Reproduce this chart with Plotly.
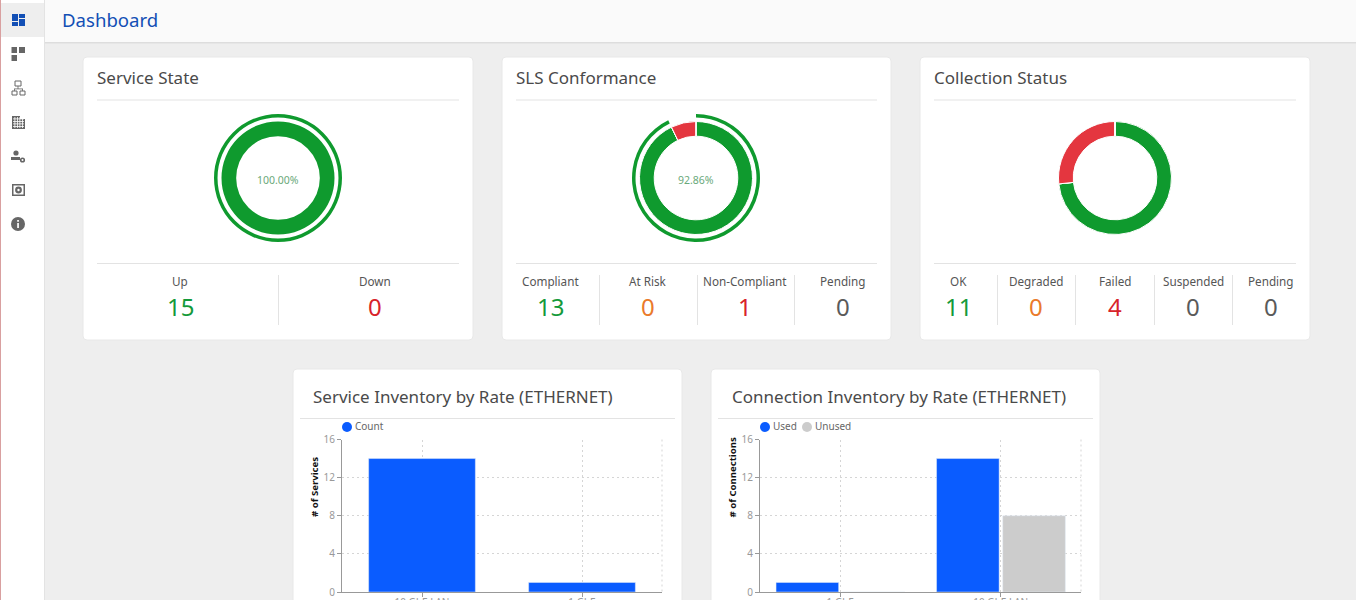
#!/user/bin/env python3
# -*- coding: utf-8 -*-

'''
dashboard test
'''

import plotly;

state_labels = ["Up", "Down"];
state_values = [15, 0];
sls_labels = ["Compliant", "At Risk", "Non-Compliant", "Pending"];
sls_values = [13, 0, 1, 0];
collection_labels = ["OK", "Degraded", "Failed", "Suspended", "Pending"];
collection_values = [11, 0, 4, 0, 0];
service_rates = ["10 GbE LAN", "1 GbE"];
service_count = [14, 1];
connection_rates = ["1 GbE", "10 GbE LAN"];
connection_used = [1, 14];
connection_unused = [0, 8];
y_ticks = [0, 4, 8, 12, 16];

W = 1356;
H = 600;
FONT = "Noto Sans";
GREEN = "#0f9a2e";
RED = "#e4363f";
BLUE = "#0a5cff";
LIGHT = "#cccccc";
ICON = "#666666";
NUM_COLORS = {"Up": "#149a3a", "Compliant": "#149a3a", "OK": "#149a3a",
              "At Risk": "#ea7a2b", "Degraded": "#ea7a2b",
              "Down": "#d8232a", "Non-Compliant": "#d8232a", "Failed": "#d8232a",
              "Pending": "#5a5a5a", "Suspended": "#5a5a5a"};

def px(x):
    return x / W;

def py(y):
    return 1 - y / H;

def box(x0, y0, x1, y1, fill, line=None, width=1):
    return dict(type="rect", xref="paper", yref="paper", layer="below",
                x0=px(x0), x1=px(x1), y0=py(y0), y1=py(y1), fillcolor=fill,
                line=dict(color=line, width=width if line else 0));

def dot(cx, cy, r, fill, layer="below"):
    return dict(type="circle", xref="paper", yref="paper", layer=layer,
                x0=px(cx - r), x1=px(cx + r), y0=py(cy - r), y1=py(cy + r),
                fillcolor=fill, line=dict(width=0));

def card(x0, y0, x1, y1, r=4):
    # 圆角卡片
    a, b, c, d = px(x0), px(x1), py(y0), py(y1);
    rx, ry = r / W, r / H;
    path = (f"M {a+rx} {c} L {b-rx} {c} Q {b} {c} {b} {c-ry} L {b} {d+ry} Q {b} {d} {b-rx} {d} "
            f"L {a+rx} {d} Q {a} {d} {a} {d+ry} L {a} {c-ry} Q {a} {c} {a+rx} {c} Z");
    return dict(type="path", xref="paper", yref="paper", layer="below", path=path,
                fillcolor="white", line=dict(color="#e8e8e8", width=1));

def label(text, x, y, size, color, anchor="center", angle=0):
    return dict(text=text, x=px(x), y=py(y), xref="paper", yref="paper", showarrow=False, textangle=angle,
                xanchor=anchor, yanchor="middle", font=dict(family=FONT, size=size, color=color));

def edge(x0, y0, x1, y1):
    # 图表边缘的虚线
    return dict(type="line", xref="paper", yref="paper", layer="below",
                x0=px(x0), x1=px(x1), y0=py(y0), y1=py(y1),
                line=dict(color="#d5d5d5", width=1, dash="2px,3px"));

def draw_icons():
    # 左侧图标
    s = [box(0, 0, 45, H, "white"), box(44, 0, 45, H, "#e3e3e3"), box(0, 0, 1, H, "#d9a0a0"),
         box(1, 3, 44, 37, "#eeeeee")];
    for r in [(12, 14, 18, 21), (12, 22, 18, 26), (19, 14, 25, 18), (19, 19, 25, 26)]:
        s.append(box(*r, "#124fb5"));
    for r in [(11.5, 47, 17, 53), (19, 47, 25, 53), (11.5, 55, 17, 61)]:
        s.append(box(*r, ICON));
    # 层级
    for r in [(15, 81, 21, 86), (12, 91, 17, 95), (20, 91, 25, 95)]:
        s.append(box(*r, "white", ICON, 1));
    s.append(box(17.6, 86, 18.4, 89, ICON));
    s.append(box(14, 88.5, 23, 89.3, ICON));
    s.append(box(14, 89, 14.8, 91, ICON));
    s.append(box(22.2, 89, 23, 91, ICON));
    # 楼
    s.append(box(12, 116, 20, 129, ICON));
    s.append(box(20, 119, 25, 129, ICON));
    for yy in [118.5, 121, 123.5, 126]:
        s.append(box(13, yy, 24, yy + 0.8, "white"));
    for xx in [14.5, 17, 19.5, 22]:
        s.append(box(xx, 117, xx + 0.8, 128, "white"));
    # 人和齿轮
    s.append(dot(16, 153, 2.6, ICON));
    s.append(box(11, 157, 20, 160, ICON));
    s.append(dot(22.5, 160, 2.6, ICON));
    s.append(dot(22.5, 160, 1, "white"));
    # 方框
    s.append(box(12, 184, 25, 196, ICON));
    s.append(box(13.5, 185.5, 23.5, 194.5, "white"));
    s.append(dot(18.5, 190, 3.4, ICON));
    s.append(dot(18.5, 190, 1.2, "white"));
    # 信息
    s.append(dot(18, 224, 7, ICON));
    s.append(box(17.2, 223, 18.9, 228, "white"));
    s.append(box(17.2, 220, 18.9, 221.8, "white"));
    return s;

def draw_donut(values, colors, cx, cy, radius, hole, border=0):
    return plotly.graph_objs.Pie(
        values=values,
        domain=dict(x=[px(cx - radius), px(cx + radius)], y=[py(cy + radius), py(cy - radius)]),
        hole=hole,
        sort=False,
        direction="clockwise",
        rotation=0,
        textinfo="none",
        showlegend=False,
        marker=dict(colors=colors, line=dict(color="white", width=border))
    );

def draw_stats(labels, values, centers, dividers, shapes, notes):
    for name, value, x in zip(labels, values, centers):
        notes.append(label(name, x, 281, 11.7, "#555555"));
        notes.append(label(str(value), x, 306.5, 24, NUM_COLORS[name]));
    for x in dividers:
        shapes.append(box(x, 275, x + 1, 325, "#e3e3e3"));

def main():
    shapes = [];
    notes = [];
    # 顶部
    shapes.append(box(45, 0, W, 43, "#fafafa"));
    shapes.append(box(45, 42, W, 43.5, "#dddddd"));
    shapes.extend(draw_icons());
    notes.append(label("Dashboard", 60, 20, 18.6, "#124fb5", "left"));
    # 卡片
    titles = [("Service State", 83, 473, 97), ("SLS Conformance", 502, 891, 516), ("Collection Status", 920, 1310, 934)];
    for name, x0, x1, tx in titles:
        shapes.append(card(x0, 57, x1, 340));
        shapes.append(box(tx, 99.5, x1 - 14, 100.5, "#e3e3e3"));
        shapes.append(box(tx, 263, x1 - 14, 264, "#e3e3e3"));
        notes.append(label(name, tx - 2, 77.5, 17, "#4a4a4a", "left"));
    shapes.append(card(293, 369, 682, 640));
    shapes.append(card(711, 369, 1100, 640));
    shapes.append(box(300, 418, 675, 419, "#e3e3e3"));
    shapes.append(box(718, 418, 1093, 419, "#e3e3e3"));
    notes.append(label("Service Inventory by Rate (ETHERNET)", 311, 396.5, 17, "#4a4a4a", "left"));
    notes.append(label("Connection Inventory by Rate (ETHERNET)", 730, 396.5, 17, "#4a4a4a", "left"));
    shapes.append(edge(662, 439.5, 662, 592));
    shapes.append(edge(1081, 439.5, 1081, 592));

    draw_stats(state_labels, state_values, [180, 375], [278], shapes, notes);
    draw_stats(sls_labels, sls_values, [550, 648, 745, 843], [599, 697, 794], shapes, notes);
    draw_stats(collection_labels, collection_values, [958, 1036, 1115, 1193, 1271], [997, 1075, 1154, 1232], shapes, notes);

    notes.append(label("100.00%", 278, 180, 10.5, "#6aa97a"));
    notes.append(label("92.86%", 696, 180, 10.5, "#6aa97a"));

    # 图例
    shapes.append(dot(347, 427, 5, BLUE));
    notes.append(label("Count", 353, 426, 10, "#666666", "left"));
    shapes.append(dot(765, 427, 5, BLUE));
    notes.append(label("Used", 771, 426, 10, "#666666", "left"));
    shapes.append(dot(807, 427, 5, LIGHT));
    notes.append(label("Unused", 813, 426, 10, "#666666", "left"));

    # 纵轴标题
    notes.append(label("<b># of Services</b>", 314, 487, 9.6, "#111111", "center", -90));
    notes.append(label("<b># of Connections</b>", 732, 477.5, 9.6, "#111111", "center", -90));

    # 准备图轨数据
    clear = "rgba(0,0,0,0)";
    data = [
        draw_donut(state_values, [GREEN, RED], 278, 178, 56.5, 0.74),
        draw_donut(state_values, [GREEN, clear], 278, 178, 64, 0.945),
        draw_donut(sls_values, [GREEN, "#ea7a2b", RED, "#999999"], 696, 178, 56.5, 0.74, 1),
        draw_donut(sls_values, [GREEN, clear, clear, clear], 696, 178, 64, 0.945),
        draw_donut(collection_values, [GREEN, "#ea7a2b", RED, "#999999", "#999999"], 1115, 178, 56.5, 0.74, 1),
        plotly.graph_objs.Bar(x=service_rates, y=service_count, name="Count", width=0.667, offset=-0.3335,
                              marker=dict(color=BLUE), xaxis="x", yaxis="y", showlegend=False),
        plotly.graph_objs.Bar(x=connection_rates, y=connection_used, name="Used", width=0.39, offset=-0.4,
                              marker=dict(color=BLUE), xaxis="x2", yaxis="y2", showlegend=False),
        plotly.graph_objs.Bar(x=connection_rates, y=connection_unused, name="Unused", width=0.39, offset=0.0125,
                              marker=dict(color=LIGHT), xaxis="x2", yaxis="y2", showlegend=False),
    ];

    x_style = dict(showgrid=True, gridcolor="#d5d5d5", griddash="2px,3px", gridwidth=1, showline=True,
                   linecolor="#999999", linewidth=1, ticks="outside", ticklen=4, tickcolor="#999999",
                   tickfont=dict(family=FONT, size=10, color="#999999"), type="category", range=[-0.5, 1.5],
                   mirror=False, zeroline=False, automargin=False, ticklabelstandoff=-3);
    y_style = dict(showgrid=True, gridcolor="#d5d5d5", griddash="2px,3px", gridwidth=1, showline=True,
                   linecolor="#999999", linewidth=1, ticks="outside", ticklen=4, tickcolor="#999999",
                   tickfont=dict(family=FONT, size=10, color="#999999"), range=[0, 16], tickvals=y_ticks,
                   zeroline=False, automargin=False, domain=[py(592), py(439.5)]);

    # 设置画布布局
    layout = plotly.graph_objs.Layout(
        width=W,
        height=H,
        margin=dict(l=0, r=0, t=0, b=0),
        paper_bgcolor="#eeeeee",
        plot_bgcolor="rgba(0,0,0,0)",
        font=dict(family=FONT),
        barmode="overlay",
        shapes=shapes,
        annotations=notes,
        xaxis=dict(x_style, domain=[px(342), px(662)], anchor="y"),
        yaxis=dict(y_style, anchor="x"),
        xaxis2=dict(x_style, domain=[px(760), px(1081)], anchor="y2"),
        yaxis2=dict(y_style, anchor="x2"),
    );
    # 融合图轨数据和布局
    figure = plotly.graph_objs.Figure(data=data, layout=layout);
    # 输出
    figure.write_html("out.html", config={"displayModeBar": False},
                      post_script="document.body.style.margin='0';document.body.style.overflow='hidden';");

if __name__ == "__main__":
    main();
